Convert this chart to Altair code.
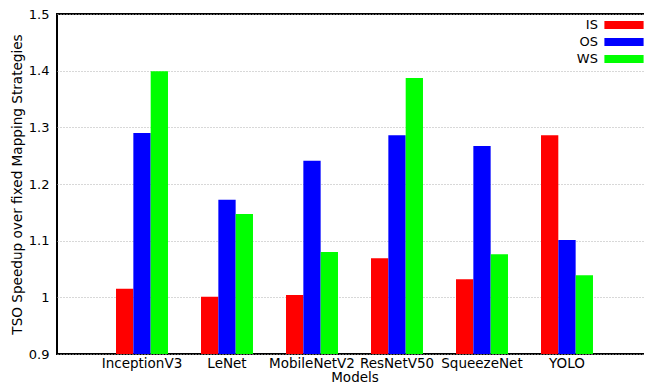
import altair as alt
import pandas as pd

models = ["InceptionV3", "LeNet", "MobileNetV2", "ResNetV50", "SqueezeNet", "YOLO"]
strategies = ["IS", "OS", "WS"]
is_vals = [1.015, 1.001, 1.004, 1.069, 1.032, 1.286]
os_vals = [1.290, 1.172, 1.241, 1.286, 1.267, 1.101]
ws_vals = [1.399, 1.147, 1.080, 1.387, 1.076, 1.039]
colors = ["#ff0000", "#0000ff", "#00ff00"]
y_ticks = [0.9, 1.0, 1.1, 1.2, 1.3, 1.4, 1.5]

rows = []
for s, vals in zip(strategies, [is_vals, os_vals, ws_vals]):
    for m, v in zip(models, vals):
        rows.append({"Model": m, "Strategy": s, "Speedup": v})
df = pd.DataFrame(rows)

FONT = "DejaVu Sans"

bars = alt.Chart(df).mark_bar(size=17.3).encode(
    x=alt.X("Model:N", sort=models, title="Models",
            scale=alt.Scale(paddingInner=0.388, paddingOuter=0.694),
            axis=alt.Axis(labelAngle=0, ticks=False, domain=False, labelPadding=2,
                          titleY=27, titleBaseline="alphabetic",
                          labelFontSize=13.5, titleFontSize=13.5,
                          labelFont=FONT, titleFont=FONT, labelColor="#000",
                          titleColor="#000", titleFontWeight="normal")),
    xOffset=alt.XOffset("Strategy:N", sort=strategies,
                        scale=alt.Scale(paddingInner=0, paddingOuter=0)),
    y=alt.Y("Speedup:Q", title="TSO Speedup over fixed Mapping Strategies",
            scale=alt.Scale(domain=[0.9, 1.5], zero=False, nice=False),
            axis=alt.Axis(values=y_ticks, format=".2~g", ticks=False, domain=False,
                          labelPadding=8, titlePadding=4, labelFontSize=13,
                          titleFontSize=13.6, labelFont=FONT, titleFont=FONT,
                          labelColor="#000", titleColor="#000",
                          titleFontWeight="normal", grid=True,
                          gridColor="#b0b0b0", gridDash=[1, 2], gridWidth=1)),
    y2=alt.datum(0.9),
    color=alt.Color("Strategy:N", sort=strategies,
                    scale=alt.Scale(domain=strategies, range=colors),
                    legend=alt.Legend(title=None, orient="none", legendX=560.5,
                                      legendY=4.5, padding=0,
                                      symbolType="M-4.9,-1L4.9,-1L4.9,1L-4.9,1Z",
                                      symbolSize=64, symbolStrokeWidth=0,
                                      symbolOpacity=1,
                                      labelAlign="right",
                                      labelOffset={"expr": "-32.6"},
                                      labelFontSize=13, labelFont=FONT,
                                      labelColor="#000", rowPadding=3)),
)

chart = bars.properties(
    width=595, height=340,
    background="white",
    autosize=alt.AutoSizeParams(type="none"),
    padding={"left": 49, "top": 6, "right": -8, "bottom": 29},
).configure_view(stroke="#000", strokeWidth=2)

chart.save("out.html", embed_options={"renderer": "svg", "actions": False})
